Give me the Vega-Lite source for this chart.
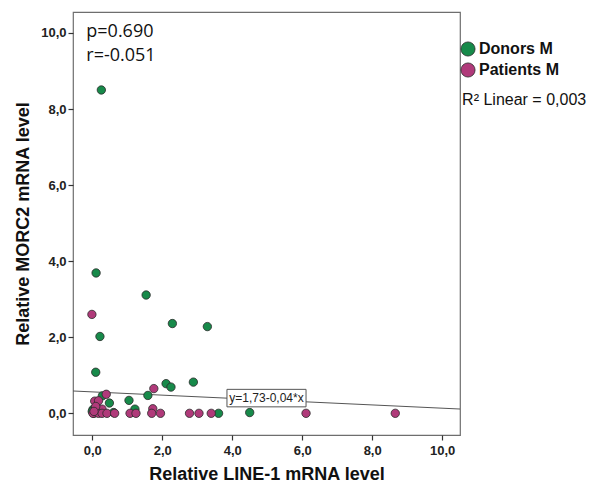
{
  "$schema": "https://vega.github.io/schema/vega-lite/v6.json",
  "width": 387,
  "height": 423,
  "autosize": {"type": "none"},
  "padding": {"left": 73, "top": 12, "right": 130, "bottom": 52},
  "background": "white",
  "config": {
    "view": {"stroke": "#6e6e6e", "strokeWidth": 1.2},
    "font": "Liberation Sans"
  },
  "datasets": {
    "points": [
      {"x": 0.26, "y": 8.5, "group": "Donors M"},
      {"x": 0.11, "y": 3.69, "group": "Donors M"},
      {"x": 1.54, "y": 3.11, "group": "Donors M"},
      {"x": 2.29, "y": 2.36, "group": "Donors M"},
      {"x": 3.29, "y": 2.28, "group": "Donors M"},
      {"x": 0.22, "y": 2.02, "group": "Donors M"},
      {"x": 0.10, "y": 1.08, "group": "Donors M"},
      {"x": 2.11, "y": 0.78, "group": "Donors M"},
      {"x": 2.25, "y": 0.69, "group": "Donors M"},
      {"x": 2.89, "y": 0.82, "group": "Donors M"},
      {"x": 1.59, "y": 0.47, "group": "Donors M"},
      {"x": 1.05, "y": 0.34, "group": "Donors M"},
      {"x": 0.49, "y": 0.27, "group": "Donors M"},
      {"x": 0.29, "y": 0.46, "group": "Donors M"},
      {"x": 1.22, "y": 0.11, "group": "Donors M"},
      {"x": 3.61, "y": 0.0, "group": "Donors M"},
      {"x": 4.50, "y": 0.02, "group": "Donors M"},
      {"x": 0.02, "y": 0.10, "group": "Donors M"},
      {"x": 0.0, "y": 0.05, "group": "Donors M"},
      {"x": 0.05, "y": 0.0, "group": "Donors M"},
      {"x": 0.61, "y": 0.02, "group": "Donors M"},
      {"x": 0.12, "y": 0.15, "group": "Donors M"},
      {"x": 0.20, "y": 0.05, "group": "Donors M"},
      {"x": -0.01, "y": 2.6, "group": "Patients M"},
      {"x": 0.40, "y": 0.50, "group": "Patients M"},
      {"x": 1.76, "y": 0.65, "group": "Patients M"},
      {"x": 0.07, "y": 0.32, "group": "Patients M"},
      {"x": 0.18, "y": 0.33, "group": "Patients M"},
      {"x": 1.73, "y": 0.12, "group": "Patients M"},
      {"x": 0.28, "y": 0.11, "group": "Patients M"},
      {"x": 0.02, "y": 0.0, "group": "Patients M"},
      {"x": 0.18, "y": 0.0, "group": "Patients M"},
      {"x": 0.28, "y": 0.0, "group": "Patients M"},
      {"x": 0.42, "y": 0.0, "group": "Patients M"},
      {"x": 0.64, "y": 0.0, "group": "Patients M"},
      {"x": 1.08, "y": 0.0, "group": "Patients M"},
      {"x": 1.25, "y": 0.0, "group": "Patients M"},
      {"x": 1.70, "y": 0.0, "group": "Patients M"},
      {"x": 1.95, "y": 0.0, "group": "Patients M"},
      {"x": 2.78, "y": 0.0, "group": "Patients M"},
      {"x": 3.05, "y": 0.0, "group": "Patients M"},
      {"x": 3.40, "y": 0.0, "group": "Patients M"},
      {"x": 6.11, "y": 0.0, "group": "Patients M"},
      {"x": 8.66, "y": 0.0, "group": "Patients M"},
      {"x": 0.10, "y": 0.18, "group": "Patients M"},
      {"x": 0.05, "y": 0.05, "group": "Patients M"}
    ],
    "fit": [
      {"x": -0.55, "y": 0.587},
      {"x": 10.51, "y": 0.113}
    ],
    "box": [
      {"x1": 3.85, "x2": 6.11, "y1": 0.17, "y2": 0.63, "xc": 4.98, "yc": 0.40, "label": "y=1,73-0,04*x"}
    ],
    "stats": [
      {"x": -0.17, "y": 9.9, "label": "p=0.690"},
      {"x": -0.17, "y": 9.25, "label": "r=-0.051"}
    ],
    "r2": [
      {"x": 10.57, "y": 8.1, "label": "R² Linear = 0,003"}
    ]
  },
  "layer": [
    {
      "data": {"name": "fit"},
      "mark": {"type": "line", "color": "#555555", "strokeWidth": 1, "clip": true},
      "encoding": {
        "x": {"field": "x", "type": "quantitative", "scale": {"domain": [-0.55, 10.51], "nice": false, "zero": false},
          "axis": {"values": [0, 2, 4, 6, 8, 10], "labelExpr": "replace(format(datum.value, '.1f'), '.', ',')", "domain": false, "grid": false, "tickColor": "#333", "tickSize": 5, "tickWidth": 1.2, "labelFont": "Liberation Sans", "labelFontWeight": "bold", "labelFontSize": 13, "labelColor": "#222", "labelPadding": 4, "title": "Relative LINE-1 mRNA level", "titleFont": "Liberation Sans", "titleFontWeight": "bold", "titleFontSize": 18, "titleColor": "#111", "titlePadding": 8}},
        "y": {"field": "y", "type": "quantitative", "scale": {"domain": [-0.57, 10.55], "nice": false, "zero": false},
          "axis": {"values": [0, 2, 4, 6, 8, 10], "labelExpr": "replace(format(datum.value, '.1f'), '.', ',')", "domain": false, "grid": false, "tickColor": "#333", "tickSize": 5, "tickWidth": 1.2, "labelFont": "Liberation Sans", "labelFontWeight": "bold", "labelFontSize": 13, "labelColor": "#222", "labelPadding": 2, "title": "Relative MORC2 mRNA level", "titleFont": "Liberation Sans", "titleFontWeight": "bold", "titleFontSize": 18, "titleColor": "#111", "titlePadding": 8}}
      }
    },
    {
      "data": {"name": "points"},
      "mark": {"type": "point", "filled": true, "size": 70, "stroke": "#2a2a2a", "strokeWidth": 0.8, "opacity": 1},
      "encoding": {
        "x": {"field": "x", "type": "quantitative"},
        "y": {"field": "y", "type": "quantitative"},
        "fill": {"field": "group", "type": "nominal",
          "scale": {"domain": ["Donors M", "Patients M"], "range": ["#178a4a", "#b03a7a"]},
          "legend": {"title": null, "orient": "none", "legendX": 387, "legendY": 29, "symbolType": "circle", "symbolSize": 200, "symbolStrokeColor": "#2a2a2a", "symbolStrokeWidth": 0.8, "labelFont": "Liberation Sans", "labelFontWeight": "bold", "labelFontSize": 16, "labelColor": "#111", "rowPadding": 3, "labelOffset": 3}}
      }
    },
    {
      "data": {"name": "box"},
      "mark": {"type": "rect", "fill": "white", "stroke": "#555555", "strokeWidth": 1},
      "encoding": {
        "x": {"field": "x1", "type": "quantitative"},
        "x2": {"field": "x2"},
        "y": {"field": "y1", "type": "quantitative"},
        "y2": {"field": "y2"}
      }
    },
    {
      "data": {"name": "box"},
      "mark": {"type": "text", "font": "Liberation Sans", "fontSize": 12, "color": "#222", "align": "center", "baseline": "middle"},
      "encoding": {
        "x": {"field": "xc", "type": "quantitative"},
        "y": {"field": "yc", "type": "quantitative"},
        "text": {"field": "label"}
      }
    },
    {
      "data": {"name": "stats"},
      "mark": {"type": "text", "font": "Open Sans", "fontSize": 18, "color": "#111", "align": "left", "baseline": "alphabetic"},
      "encoding": {
        "x": {"field": "x", "type": "quantitative"},
        "y": {"field": "y", "type": "quantitative"},
        "text": {"field": "label"}
      }
    },
    {
      "data": {"name": "r2"},
      "mark": {"type": "text", "font": "Liberation Sans", "fontSize": 16, "color": "#111", "align": "left", "baseline": "alphabetic"},
      "encoding": {
        "x": {"field": "x", "type": "quantitative"},
        "y": {"field": "y", "type": "quantitative"},
        "text": {"field": "label"}
      }
    }
  ]
}
